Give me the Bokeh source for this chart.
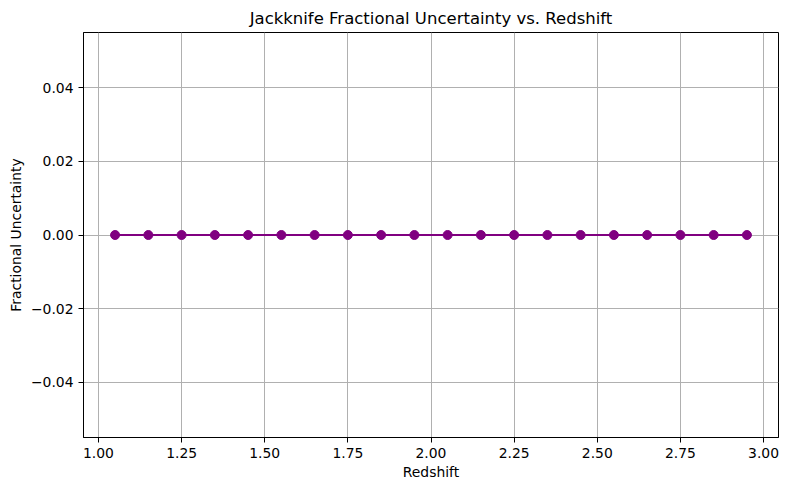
from bokeh.plotting import figure
from bokeh.models import ColumnDataSource, FixedTicker, CustomJSTickFormatter, Range1d
from bokeh.embed import file_html
from bokeh.resources import INLINE

# data
redshift = [1.05, 1.15, 1.25, 1.35, 1.45, 1.55, 1.65, 1.75, 1.85, 1.95,
            2.05, 2.15, 2.25, 2.35, 2.45, 2.55, 2.65, 2.75, 2.85, 2.95]
frac_unc = [0.0, 0.0, 0.0, 0.0, 0.0, 0.0, 0.0, 0.0, 0.0, 0.0,
            0.0, 0.0, 0.0, 0.0, 0.0, 0.0, 0.0, 0.0, 0.0, 0.0]
x_ticks = [1.0, 1.25, 1.5, 1.75, 2.0, 2.25, 2.5, 2.75, 3.0]
y_ticks = [-0.04, -0.02, 0.0, 0.02, 0.04]

FONT = "DejaVu Sans"

source = ColumnDataSource(dict(z=redshift, u=frac_unc))

p = figure(width=780, height=482, output_backend="svg", toolbar_location=None,
           title="Jackknife Fractional Uncertainty vs. Redshift",
           x_range=Range1d(0.955, 3.045), y_range=Range1d(-0.055, 0.055),
           min_border_left=83, min_border_right=2, min_border_top=32, min_border_bottom=45)

p.title.align = "center"
p.title.text_font = FONT
p.title.text_font_size = "16.5px"
p.title.text_font_style = "normal"
p.title.text_color = "black"
p.title.standoff = 9

p.line('z', 'u', source=source, line_color="purple", line_width=2)
p.scatter('z', 'u', source=source, size=9, fill_color="purple", line_color="purple")

p.xaxis.axis_label = "Redshift"
p.yaxis.axis_label = "Fractional Uncertainty"
p.xaxis.ticker = FixedTicker(ticks=x_ticks)
p.yaxis.ticker = FixedTicker(ticks=y_ticks)
fmt = CustomJSTickFormatter(code="return tick.toFixed(2).replace('-', '\u2212');")
p.xaxis.formatter = fmt
p.yaxis.formatter = fmt

for ax in [p.xaxis, p.yaxis]:
    ax.axis_label_text_font = FONT
    ax.axis_label_text_font_size = "13.9px"
    ax.axis_label_text_font_style = "normal"
    ax.axis_label_text_color = "black"
    ax.major_label_text_font = FONT
    ax.major_label_text_font_size = "13.9px"
    ax.major_label_text_color = "black"
    ax.major_tick_in = 0
    ax.major_tick_out = 5
    ax.major_tick_line_color = "black"
    ax.minor_tick_line_color = None
    ax.axis_line_color = "black"
    ax.major_label_standoff = 5

p.xaxis.axis_label_standoff = 3
p.yaxis.axis_label_standoff = 4

p.outline_line_color = "black"
p.outline_line_alpha = 1
p.outline_line_width = 1

p.xgrid.grid_line_color = "#b0b0b0"
p.ygrid.grid_line_color = "#b0b0b0"
p.xgrid.grid_line_width = 1
p.ygrid.grid_line_width = 1

open("out.html", "w").write(file_html(p, INLINE))
